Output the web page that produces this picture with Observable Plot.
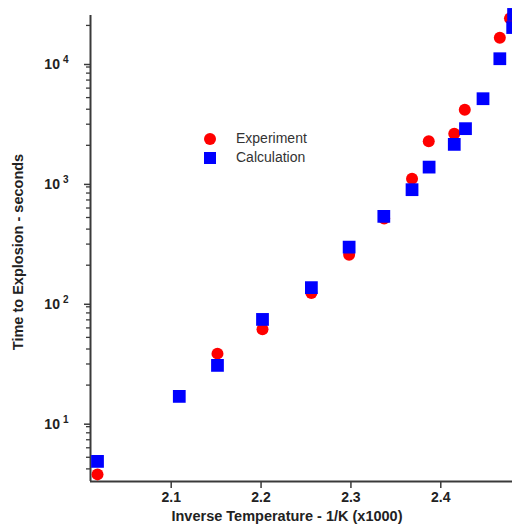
<!DOCTYPE html>
<html>
<head>
<meta charset="utf-8">
<script src="https://cdn.jsdelivr.net/npm/d3@7"></script>
<script src="https://cdn.jsdelivr.net/npm/@observablehq/plot@0.6"></script>
<style>
  html, body { margin: 0; padding: 0; background: #fff; }
  #wrap { position: relative; width: 512px; height: 531px; overflow: hidden; font-family: "Liberation Sans", Arial, sans-serif; }
  .leg { position: absolute; left: 202px; top: 129px; font-size: 14px; color: #333; line-height: 19px; }
  .leg div { display: flex; align-items: center; height: 19px; }
  .sw { width: 16px; height: 16px; display: inline-flex; align-items: center; justify-content: center; margin-right: 18px; }
  .circ { width: 12px; height: 12px; border-radius: 50%; background: #ff0000; }
  .sq { width: 12px; height: 12px; background: #0000ff; }
</style>
</head>
<body>
<div id="wrap"></div>
<script>
// Data
const expX = [2.018, 2.1515, 2.2016, 2.256, 2.298, 2.337, 2.368, 2.3866, 2.415, 2.4267, 2.4657, 2.477];
const expY = [3.6, 36.6, 58.4, 117, 245, 490, 1050, 2160, 2500, 3960, 15800, 22900];
const calcX = [2.018, 2.109, 2.1515, 2.2016, 2.256, 2.298, 2.3366, 2.368, 2.387, 2.415, 2.4275, 2.447, 2.4657, 2.48, 2.481];
const calcY = [4.62, 16.1, 29.2, 70.6, 130, 283, 511, 853, 1316, 2036, 2754, 4895, 10550, 19200, 24700];
const seriesNames = ["Experiment", "Calculation"];
const xTicks = [2.1, 2.2, 2.3, 2.4];
const yMajor = [10, 100, 1000, 10000];
const yMinor = [4,5,6,7,8,9, 20,30,40,50,60,70,80,90, 200,300,400,500,600,700,800,900, 2000,3000,4000,5000,6000,7000,8000,9000, 20000];
const xTitle = "Inverse Temperature - 1/K (x1000)";
const yTitle = "Time to Explosion - seconds";

const xDomain = [2.0102, 2.4798];
const yDomain = [3.14, 24200];

const expData = expX.map((x, i) => ({x, y: expY[i]}));
const calcData = calcX.map((x, i) => ({x, y: calcY[i]}));

const axisColor = "#3a3a3a";
const chart = Plot.plot({
  width: 512,
  height: 531,
  marginLeft: 90,
  marginRight: 0,
  marginTop: 15,
  marginBottom: 50,
  style: {fontFamily: "'Liberation Sans', Arial, sans-serif", background: "#fff", overflow: "visible"},
  x: {domain: xDomain},
  y: {type: "log", domain: yDomain},
  marks: [
    Plot.axisX({ticks: xTicks, tickSize: 7, tickPadding: 4, tickFormat: d3.format(".1f"), label: null,
      fontSize: 14, fontWeight: "bold", stroke: axisColor, fill: "#222", strokeWidth: 1.5}),
    Plot.axisY({ticks: yMinor, tickSize: 4, tickFormat: () => "", label: null, stroke: axisColor, strokeWidth: 1.3}),
    Plot.axisY({ticks: yMajor, tickSize: 6, tickPadding: 16, label: null, dy: 3,
      tickFormat: d => String(Math.round(Math.log10(d))),
      fontSize: 14, fontWeight: "bold", stroke: axisColor, fill: "#222", strokeWidth: 1.5}),
    Plot.ruleX([xDomain[0]], {stroke: axisColor, strokeWidth: 2}),
    Plot.ruleY([yDomain[0]], {stroke: axisColor, strokeWidth: 2}),
    Plot.dot(expData, {x: "x", y: "y", r: 6, fill: "#ff0000", stroke: "none", symbol: "circle"}),
    Plot.dot(calcData, {x: "x", y: "y", r: 7.2, fill: "#0000ff", stroke: "none", symbol: "square"})
  ]
});

// Superscript exponents on the major y tick labels: "10" + exponent
d3.select(chart).selectAll('g[aria-label="y-axis tick label"] text').each(function() {
  const t = d3.select(this);
  const e = t.text();
  if (!e) { t.remove(); return; }
  t.text("10");
  t.append("tspan").attr("dx", "3").attr("dy", "-6").attr("font-size", "10").text(e);
});

const svg = d3.select(chart);
svg.append("text")
  .attr("x", 287).attr("y", 521)
  .attr("text-anchor", "middle")
  .attr("font-size", 14.5).attr("font-weight", "bold").attr("fill", "#222")
  .text(xTitle);
svg.append("text")
  .attr("transform", "translate(23,252) rotate(-90)")
  .attr("text-anchor", "middle")
  .attr("font-size", 14.5).attr("font-weight", "bold").attr("fill", "#222")
  .text(yTitle);

const wrap = document.getElementById("wrap");
wrap.appendChild(chart);

// Legend overlay
const leg = document.createElement("div");
leg.className = "leg";
const shapes = ["circ", "sq"];
seriesNames.forEach((name, i) => {
  const row = document.createElement("div");
  row.innerHTML = `<span class="sw"><span class="${shapes[i]}"></span></span><span>${name}</span>`;
  leg.appendChild(row);
});
wrap.appendChild(leg);
</script>
</body>
</html>
